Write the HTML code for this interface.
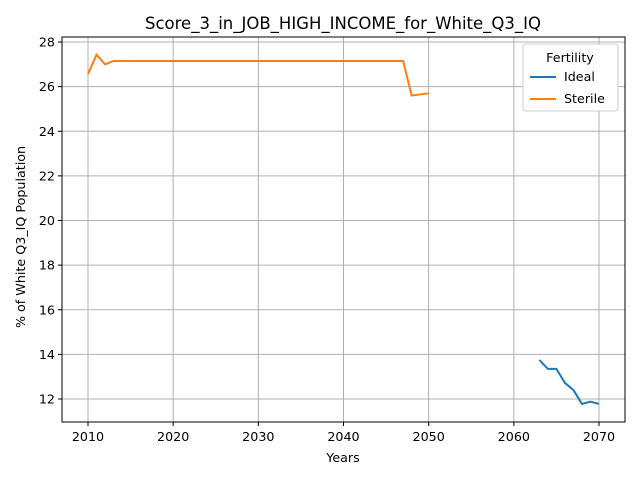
<!DOCTYPE html>
<html><head><meta charset="utf-8"><style>body{margin:0;background:#fff}svg text{font-family:"DejaVu Sans","Liberation Sans",sans-serif;fill:#000}</style></head>
<body>
<svg id="c" width="640" height="480"></svg>
<script>
const yearsIdeal=[2063,2064,2065,2066,2067,2068,2069,2070];
const valsIdeal=[13.75,13.35,13.35,12.72,12.4,11.78,11.88,11.78];
const yearsSterile=[2010,2011,2012,2013,2014,2015,2016,2017,2018,2019,2020,2021,2022,2023,2024,2025,2026,2027,2028,2029,2030,2031,2032,2033,2034,2035,2036,2037,2038,2039,2040,2041,2042,2043,2044,2045,2046,2047,2048,2049,2050];
const valsSterile=[26.57,27.43,27.0,27.15,27.15,27.15,27.15,27.15,27.15,27.15,27.15,27.15,27.15,27.15,27.15,27.15,27.15,27.15,27.15,27.15,27.15,27.15,27.15,27.15,27.15,27.15,27.15,27.15,27.15,27.15,27.15,27.15,27.15,27.15,27.15,27.15,27.15,27.15,25.6,25.65,25.7];
const xTicks=[2010,2020,2030,2040,2050,2060,2070];
const yTicks=[12,14,16,18,20,22,24,26,28];
const NS='http://www.w3.org/2000/svg';
const svg=document.getElementById('c');
const L=62,R=625,T=37,B=422;
const X=v=>88+(v-2010)*(599-88)/60;
const Y=v=>399-(v-12)*(399-42)/16;
function el(t,a,p){const e=document.createElementNS(NS,t);for(const k in a)e.setAttribute(k,a[k]);(p||svg).appendChild(e);return e;}
let t=el('text',{x:343,y:29,'font-size':16.5,'text-anchor':'middle'});t.textContent='Score_3_in_JOB_HIGH_INCOME_for_White_Q3_IQ';


xTicks.forEach(v=>{const g=el('line',{x1:X(v),x2:X(v),y1:T,y2:B,stroke:'#b0b0b0','stroke-width':1});


el('line',{x1:X(v),x2:X(v),y1:B,y2:B+4,stroke:'#000'});
const l=el('text',{x:X(v),y:B+19,'font-size':12.7,'text-anchor':'middle'});l.textContent=v;

});
yTicks.forEach(v=>{const g=el('line',{x1:L,x2:R,y1:Y(v),y2:Y(v),stroke:'#b0b0b0','stroke-width':1});


el('line',{x1:L-4,x2:L,y1:Y(v),y2:Y(v),stroke:'#000'});
const l=el('text',{x:L-7,y:Y(v)+4.5,'font-size':12.7,'text-anchor':'end'});l.textContent=v;

});
function line(xs,ys,c,n){const p=el('polyline',{points:xs.map((x,i)=>X(x)+','+Y(ys[i])).join(' '),fill:'none',stroke:c,'stroke-width':2});

}
line(yearsIdeal,valsIdeal,'#1f77b4','ideal-line');
line(yearsSterile,valsSterile,'#ff7f0e','sterile-line');
const f=el('rect',{x:L,y:T,width:R-L,height:B-T,fill:'none',stroke:'#000','stroke-width':1});


t=el('text',{x:343,y:462,'font-size':12.7,'text-anchor':'middle'});t.textContent='Years';


t=el('text',{x:25,y:237,'font-size':12.7,'text-anchor':'middle',transform:'rotate(-90 25 237)'});t.textContent='% of White Q3_IQ Population';


const lg=el('g',{});


el('rect',{x:523,y:44,width:95,height:67,rx:3,fill:'#fff',stroke:'#ccc'},lg);
t=el('text',{x:570,y:62,'font-size':12.7,'text-anchor':'middle'},lg);t.textContent='Fertility';
[['Ideal','#1f77b4',81],['Sterile','#ff7f0e',103]].forEach(([n,c,y])=>{
const e=el('g',{},lg);


el('line',{x1:530,x2:556,y1:y-4,y2:y-4,stroke:c,'stroke-width':2},e);
const tx=el('text',{x:564,y:y,'font-size':12.7},e);tx.textContent=n;});
</script>
</body></html>
